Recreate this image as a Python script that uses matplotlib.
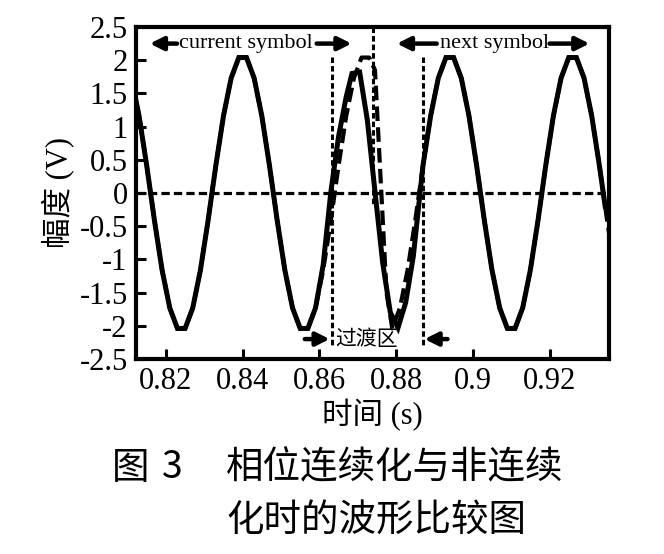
import numpy as np
import matplotlib
matplotlib.use('Agg')
import matplotlib.pyplot as plt

# senal con fase continua (linea solida)
t_cont = [0.811, 0.813, 0.815, 0.817, 0.819, 0.821, 0.823, 0.825, 0.827, 0.829,
          0.831, 0.833, 0.835, 0.837, 0.839, 0.841, 0.843, 0.845, 0.847, 0.849,
          0.851, 0.853, 0.855, 0.857, 0.859, 0.861, 0.863, 0.865, 0.867, 0.8685,
          0.8705, 0.8725, 0.8745, 0.8765, 0.8785, 0.8805, 0.8825, 0.8845, 0.887, 0.889,
          0.891, 0.893, 0.895, 0.897, 0.899, 0.901, 0.903, 0.905, 0.907, 0.909,
          0.911, 0.913, 0.915, 0.917, 0.919, 0.921, 0.923, 0.925, 0.927, 0.929,
          0.931, 0.933, 0.9345]
v_cont = [1.73, 1.16, 0.41, -0.41, -1.16, -1.73, -2.04, -2.04, -1.73, -1.16,
          -0.41, 0.41, 1.16, 1.73, 2.04, 2.04, 1.73, 1.16, 0.41, -0.41,
          -1.16, -1.73, -2.04, -2.04, -1.73, -1.08, 0.02, 0.85, 1.45, 1.80,
          1.82, 1.10, 0.02, -1.05, -1.80, -2.03, -1.65, -0.95, 0.41, 1.16,
          1.73, 2.04, 2.04, 1.73, 1.16, 0.41, -0.41, -1.16, -1.73, -2.04,
          -2.04, -1.73, -1.16, -0.41, 0.41, 1.16, 1.73, 2.04, 2.04, 1.73,
          1.16, 0.41, -0.20]

# senal sin fase continua (linea discontinua)
t_disc = [0.811, 0.813, 0.815, 0.817, 0.819, 0.821, 0.823, 0.825, 0.827, 0.829,
          0.831, 0.833, 0.835, 0.837, 0.839, 0.841, 0.843, 0.845, 0.847, 0.849,
          0.851, 0.853, 0.855, 0.857, 0.859, 0.861, 0.863, 0.865, 0.867, 0.869,
          0.871, 0.873, 0.8745, 0.8775, 0.879, 0.881, 0.883, 0.885, 0.887, 0.889,
          0.891, 0.893, 0.895, 0.897, 0.899, 0.901, 0.903, 0.905, 0.907, 0.909,
          0.911, 0.913, 0.915, 0.917, 0.919, 0.921, 0.923, 0.925, 0.927, 0.929,
          0.931, 0.933, 0.935, 0.937]
v_disc = [1.73, 1.16, 0.41, -0.41, -1.16, -1.73, -2.04, -2.04, -1.73, -1.16,
          -0.41, 0.41, 1.16, 1.73, 2.04, 2.04, 1.73, 1.16, 0.41, -0.41,
          -1.16, -1.73, -2.04, -2.04, -1.73, -1.16, -0.41, 0.41, 1.16, 1.73,
          2.04, 2.04, 1.85, -1.50, -2.04, -1.73, -1.16, -0.41, 0.41, 1.16,
          1.73, 2.04, 2.04, 1.73, 1.16, 0.41, -0.41, -1.16, -1.73, -2.04,
          -2.04, -1.73, -1.16, -0.41, 0.41, 1.16, 1.73, 2.04, 2.04, 1.73,
          1.16, 0.41, -0.41, -1.16]

# limites de la zona de transicion y del cambio de simbolo
t_trans_ini = 0.8632
t_trans_fin = 0.8870
t_cambio = 0.8740

xticks = [0.82, 0.84, 0.86, 0.88, 0.90, 0.92]
xticklabels = ['0.82', '0.84', '0.86', '0.88', '0.9', '0.92']
yticks = [2.5, 2, 1.5, 1, 0.5, 0, -0.5, -1, -1.5, -2, -2.5]
yticklabels = ['2.5', '2', '1.5', '1', '0.5', '0', '-0.5', '-1', '-1.5', '-2', '-2.5']


def flecha(ax, tail, tip):
    ax.annotate('', xy=tip, xytext=tail,
                arrowprops=dict(arrowstyle='-|>', lw=3.2, color='k',
                                mutation_scale=20, shrinkA=0, shrinkB=0))


def plot_forma_de_onda():
    plt.rcParams['axes.unicode_minus'] = False
    serif_cjk = ['Liberation Serif', 'Noto Sans CJK SC']

    fig = plt.figure(figsize=(6.64, 5.54), dpi=100)
    ax = fig.add_axes([136 / 664, 1 - 359 / 554, 473 / 664, 332 / 554])

    # curvas
    ax.plot(t_disc, v_disc, color='k', lw=3.0, dashes=(3.5, 1.5))
    ax.plot(t_cont, v_cont, color='k', lw=3.6, solid_joinstyle='miter')
    ax.axhline(0, color='k', lw=2.3, dashes=(2.6, 1.3))

    # lineas punteadas de la transicion
    ax.plot([t_trans_ini, t_trans_ini], [2.05, -2.3], color='k', lw=2.2, dashes=(1.8, 1.0))
    ax.plot([t_trans_fin, t_trans_fin], [2.05, -2.3], color='k', lw=2.2, dashes=(1.8, 1.0))
    ax.plot([t_cambio, t_cambio], [2.5, -0.2], color='k', lw=2.2, dashes=(1.8, 1.0))

    # anotaciones de simbolo
    flecha(ax, (0.8229, 2.25), (0.8158, 2.25))
    ax.text(0.8408, 2.25, 'current symbol', ha='center', va='center',
            fontsize=16, family='Liberation Serif')
    flecha(ax, (0.8593, 2.25), (0.8684, 2.25))

    flecha(ax, (0.8906, 2.25), (0.8802, 2.25))
    ax.text(0.9057, 2.25, 'next symbol', ha='center', va='center',
            fontsize=16, family='Liberation Serif')
    flecha(ax, (0.9200, 2.25), (0.9304, 2.25))

    flecha(ax, (0.8562, -2.2), (0.8627, -2.2))
    flecha(ax, (0.8934, -2.2), (0.8874, -2.2))
    ax.text(0.8724, -2.2, '过渡区', ha='center', va='center',
            fontsize=15, family='Noto Sans CJK SC')

    ax.set_xlim(0.8122, 0.9355)
    ax.set_ylim(-2.5, 2.5)
    ax.set_xticks(xticks)
    ax.set_xticklabels(xticklabels, family='Liberation Serif', fontsize=22)
    ax.set_yticks(yticks)
    ax.set_yticklabels(yticklabels, family='Liberation Serif', fontsize=22)
    ax.tick_params(direction='in', length=7, width=2.2, pad=6)
    for s in ax.spines.values():
        s.set_linewidth(3)

    ax.set_xlabel('时间 (s)', family=serif_cjk, fontsize=22, labelpad=2)
    ax.set_ylabel('幅度 (V)', family=serif_cjk, fontsize=22, labelpad=4)

    # pie de figura
    cap = dict(fontsize=27, family='Noto Sans CJK SC', va='center')
    fig.text(112 / 664, 1 - 468 / 554, '图', **cap)
    fig.text(162 / 664, 1 - 468 / 554, '3', **cap)
    fig.text(226 / 664, 1 - 468 / 554, '相位连续化与非连续', **cap)
    fig.text(226 / 664, 1 - 520 / 554, '化时的波形比较图', **cap)

    fig.savefig('out.png', dpi=100)


if __name__ == '__main__':
    plot_forma_de_onda()
